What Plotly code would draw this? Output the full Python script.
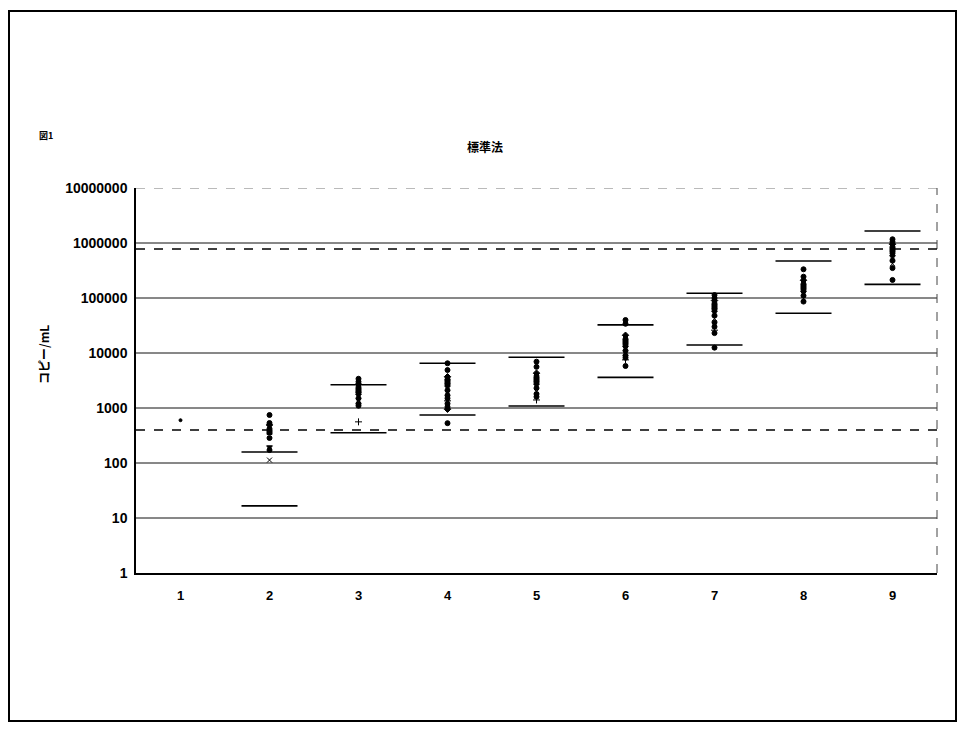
import plotly.graph_objects as go

# ---- data ----
categories = [1, 2, 3, 4, 5, 6, 7, 8, 9]
tick_labels = ["1", "2", "3", "4", "5", "6", "7", "8", "9"]

points = {
    1: [600],
    2: [746, 534, 492, 420, 366, 285, 195, 172, 113],
    3: [3400, 3000, 2700, 2400, 2100, 1900, 1700, 1500, 1350, 1200, 1100, 560],
    4: [6500, 4900, 3700, 3300, 3000, 2700, 2400, 2100, 1900, 1700, 1500, 1350, 1200, 1050, 950, 530],
    5: [6960, 5600, 4300, 3800, 3300, 2900, 2600, 2300, 2000, 1800, 1600, 1400],
    6: [39800, 34000, 21000, 18000, 16000, 14000, 12500, 11000, 10000, 9000, 8200, 7500, 5800],
    7: [113000, 100000, 90000, 80000, 70000, 62000, 55000, 48000, 42000, 36000, 30000, 26000, 23000, 12500],
    8: [333000, 244000, 210000, 180000, 160000, 140000, 125000, 110000, 98000, 86000],
    9: [1170000, 1050000, 950000, 850000, 750000, 650000, 560000, 480000, 420000, 350000, 213000],
}
upper_limits = [None, 158, 2650, 6500, 8350, 32500, 122000, 470000, 1650000]
lower_limits = [None, 16.6, 355, 746, 1090, 3600, 14000, 52700, 177000]

ref_lines = [778000, 398]
decades = [10, 100, 1000, 10000, 100000, 1000000]
y_ticks = [1, 10, 100, 1000, 10000, 100000, 1000000, 10000000]
y_tick_labels = ["1", "10", "100", "1000", "10000", "100000", "1000000", "10000000"]

symbol_cycle = ["circle", "circle", "diamond", "circle", "square", "circle",
                "triangle-down", "circle", "x-thin-open", "circle", "circle", "cross-thin-open"]

# page offset (browser body margin) and plot-area geometry in page pixels
OFF = 8
PL, PR, PT, PB = 136, 937, 188, 573
W, H = 966 - 2 * OFF, 731 - 2 * OFF
PW, PH = PR - PL, PB - PT


def px(x):
    return (x - PL) / PW


def py(y):
    return (PB - y) / PH


fig = go.Figure()

# decade gridlines
for d in decades:
    fig.add_shape(type="line", xref="paper", x0=0, x1=1, yref="y", y0=d, y1=d,
                  line=dict(color="#111", width=1), layer="below")
# top broken line
fig.add_shape(type="line", xref="paper", x0=0, x1=1, yref="y", y0=1e7, y1=1e7,
              line=dict(color="#777", width=1, dash="dash"), layer="below")
# right dashed border
fig.add_shape(type="line", xref="paper", x0=1, x1=1, yref="paper", y0=0, y1=1,
              line=dict(color="#444", width=1, dash="dash"))
# reference dashed lines
for r in ref_lines:
    fig.add_shape(type="line", xref="paper", x0=0, x1=1, yref="y", y0=r, y1=r,
                  line=dict(color="black", width=1.5, dash="dash"))

# limit bars
bx, by = [], []
for c, u, l in zip(categories, upper_limits, lower_limits):
    for v in (u, l):
        if v is not None:
            bx.append(c)
            by.append(v)
fig.add_trace(go.Scatter(x=bx, y=by, mode="markers", showlegend=False, hoverinfo="skip",
                         marker=dict(symbol="line-ew-open", size=40, color="black",
                                     line=dict(color="black", width=1.6))))

# data points
for c in categories:
    vals = points[c]
    syms = [symbol_cycle[i % len(symbol_cycle)] for i in range(len(vals))]
    size = 3 if c == 1 else 5
    fig.add_trace(go.Scatter(x=[c] * len(vals), y=vals, mode="markers", showlegend=False,
                             marker=dict(symbol=syms, size=size, color="black",
                                         line=dict(color="black", width=1))))

# outer frame
fig.add_shape(type="rect", xref="paper", yref="paper",
              x0=px(9), x1=px(956), y0=py(721), y1=py(11),
              line=dict(color="black", width=2))

fig.add_annotation(text="<b>図1</b>", xref="paper", yref="paper",
                   x=px(37), y=py(136), xanchor="left", yanchor="middle",
                   showarrow=False, font=dict(size=9, color="black", family="Noto Sans CJK JP"))
fig.add_annotation(text="<b>標準法</b>", xref="paper", yref="paper",
                   x=px(485), y=py(146), xanchor="center", yanchor="middle",
                   showarrow=False, font=dict(size=12, color="black", family="Noto Sans CJK JP"))
fig.add_annotation(text="<b>コピー/mL</b>", xref="paper", yref="paper",
                   x=px(43), y=py(355), xanchor="center", yanchor="middle",
                   textangle=-90, showarrow=False,
                   font=dict(size=12, color="black", family="Noto Sans CJK JP"))

fig.update_layout(
    width=W, height=H,
    margin=dict(l=PL - OFF, r=W - (PR - OFF), t=PT - OFF, b=H - (PB - OFF)),
    paper_bgcolor="white", plot_bgcolor="white",
    font=dict(family="Liberation Sans", color="black"),
    xaxis=dict(range=[0.5, 9.5], tickvals=categories, ticktext=["<b>%s</b>" % t for t in tick_labels],
               showgrid=False, zeroline=False, showline=True, linecolor="black", linewidth=1.5,
               ticks="", tickfont=dict(size=13, family="Liberation Sans"), ticklabelstandoff=10),
    yaxis=dict(type="log", range=[0, 7], tickvals=y_ticks,
               ticktext=["<b>%s</b>" % t for t in y_tick_labels],
               showgrid=False, zeroline=False, showline=True, linecolor="black", linewidth=1.5,
               ticks="", tickfont=dict(size=14, family="Liberation Sans"), ticklabelstandoff=4),
)

fig.write_html("out.html")
